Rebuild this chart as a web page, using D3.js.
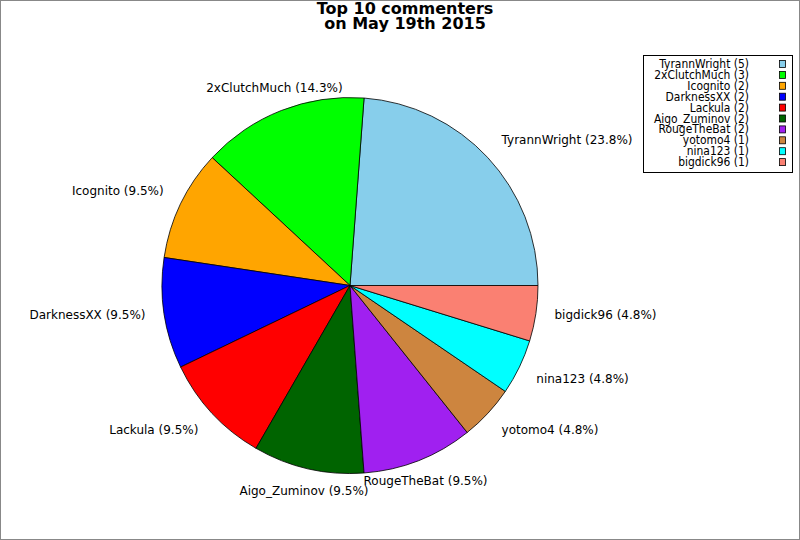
<!DOCTYPE html>
<html>
<head>
<meta charset="utf-8">
<script src="https://cdn.jsdelivr.net/npm/d3@7"></script>
<style>
body{margin:0;background:#fff;}
svg{display:block;font-family:"DejaVu Sans",sans-serif;}
</style>
</head>
<body>
<script>
var names = ['TyrannWright','2xClutchMuch','Icognito','DarknessXX','Lackula','Aigo_Zuminov','RougeTheBat','yotomo4','nina123','bigdick96'];
var counts = [5,3,2,2,2,2,2,1,1,1];
var colors = ['#87ceeb','#00ff00','#ffa500','#0000ff','#ff0000','#006400','#a020f0','#cd853f','#00ffff','#fa8072'];
var titleLines = ['Top 10 commenters','on May 19th 2015'];

var width = 800, height = 540, cx = 350, cy = 285.5, r = 188;
var total = d3.sum(counts);
var data = names.map(function(n,i){return {name:n,count:counts[i],color:colors[i]};});

var svg = d3.select('body').append('svg').attr('width',width).attr('height',height);
svg.append('rect').attr('x',0.5).attr('y',0.5).attr('width',width-1).attr('height',height-1)
  .attr('fill','#fff').attr('stroke','#888');

// title
svg.append('text').attr('x',405).attr('y',14).attr('text-anchor','middle')
  .style('font-weight','bold').style('font-size','16px')
  .selectAll('tspan').data(titleLines).enter().append('tspan')
  .attr('x',405).attr('dy',function(d,i){return i?'14.5':0;}).text(function(d){return d;});

// pie, counterclockwise from 3 o'clock
var pie = d3.pie().sort(null).value(function(d){return d.count;})
  .startAngle(Math.PI/2).endAngle(Math.PI/2 - 2*Math.PI);
var arc = d3.arc().innerRadius(0).outerRadius(r);
var labelArc = d3.arc().innerRadius(r*1.1).outerRadius(r*1.1);
var arcs = pie(data);

var g = svg.append('g').attr('transform','translate('+cx+','+cy+')');
g.selectAll('path').data(arcs).enter().append('path')
  .attr('d',arc).attr('fill',function(d){return d.data.color;})
  .attr('stroke','#000').attr('stroke-width',0.8).attr('stroke-linejoin','round');

var pct = d3.format('.1f');
g.selectAll('text.lbl').data(arcs).enter().append('text').attr('class','lbl')
  .attr('transform',function(d){return 'translate('+labelArc.centroid(d)+')';})
  .attr('text-anchor',function(d){
    var s = Math.sin((d.startAngle+d.endAngle)/2);
    return s>0.5?'start':(s<-0.5?'end':'middle');})
  .attr('dy',function(d){
    var c = Math.cos((d.startAngle+d.endAngle)/2);
    return c>0.3?'-0.1em':(c<-0.3?'0.62em':'0.2em');})
  .style('font-size','12px')
  .text(function(d){return d.data.name+' ('+pct(d.data.count/total*100)+'%)';});

// legend
var lx = 643, ly = 55;
svg.append('rect').attr('x',lx+0.5).attr('y',ly+0.5).attr('width',149).attr('height',117)
  .attr('fill','#fff').attr('stroke','#000');
var leg = svg.selectAll('g.leg').data(data).enter().append('g').attr('class','leg')
  .attr('transform',function(d,i){return 'translate(0,'+(68+i*10.9)+')';});
leg.append('text').attr('transform','translate(749,0) scale(0.86,1)')
  .attr('text-anchor','end').style('font-size','12.5px')
  .text(function(d){return d.name+' ('+d.count+')';});
leg.append('rect').attr('x',779.5).attr('y',-7.5).attr('width',6).attr('height',7)
  .attr('fill',function(d){return d.color;}).attr('stroke','#000').attr('stroke-width',0.8);
</script>
</body>
</html>
